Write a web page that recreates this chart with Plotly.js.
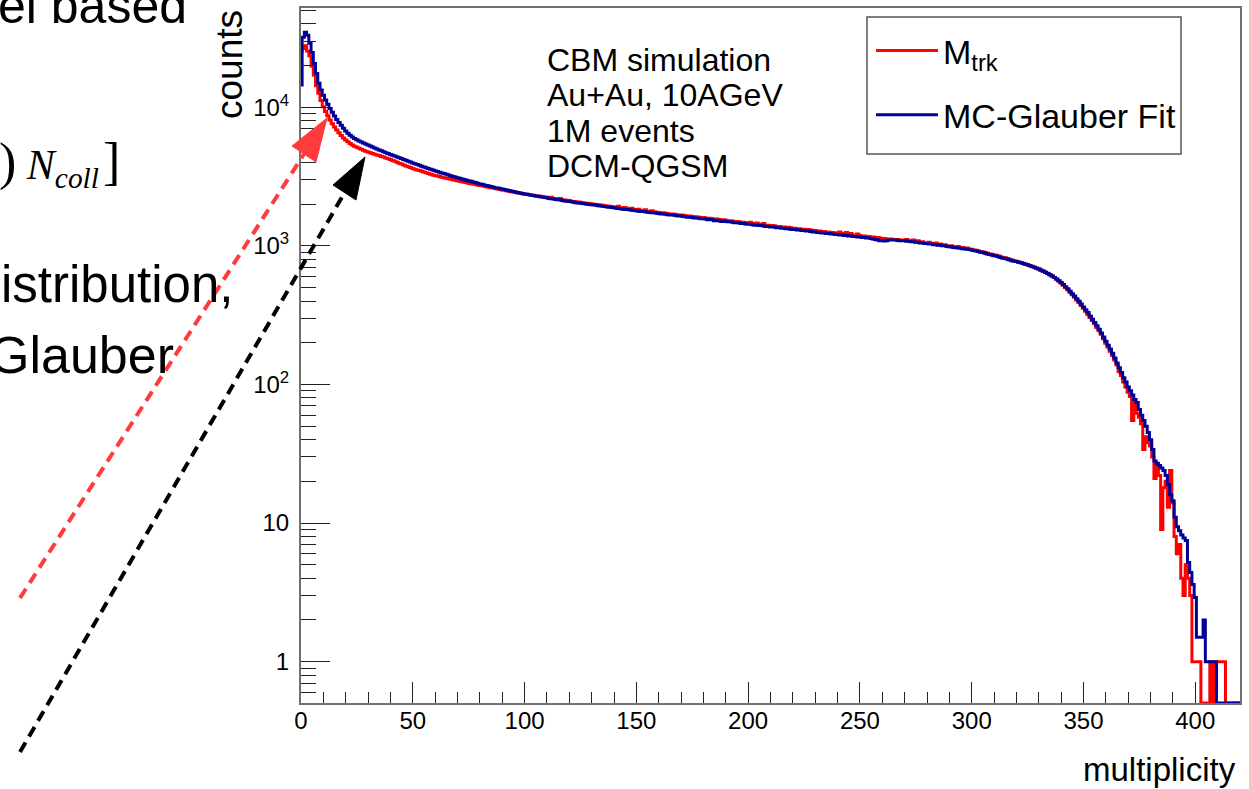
<!DOCTYPE html>
<html>
<head>
<meta charset="utf-8">
<script src="https://cdn.plot.ly/plotly-3.0.1.min.js"></script>
<style>
  html, body { margin: 0; padding: 0; background: #ffffff; }
  #chart { width: 1249px; height: 789px; }
</style>
</head>
<body>
<div id="chart"></div>
<script>
// ---- Histogram contents: one bin per integer multiplicity (bin i spans i-0.5 .. i+0.5) ----
const firstBin = 0;
const binWidth = 1;

// Reconstructed track multiplicity, M_trk (entries per bin)
const countsMtrk = [
  25500, 26500, 27800, 25500, 23500, 19800, 17000, 14300, 12600, 11200,
  10100, 9300, 8700, 8100, 7600, 7200, 6850, 6550, 6250, 6000,
  5800, 5630, 5480, 5350, 5240, 5140, 5050, 4970, 4890, 4820,
  4760, 4700, 4640, 4580, 4530, 4480, 4420, 4370, 4310, 4250,
  4190, 4130, 4070, 4010, 3950, 3890, 3830, 3770, 3720, 3670,
  3620, 3570, 3530, 3490, 3450, 3410, 3370, 3330, 3290, 3250,
  3220, 3190, 3160, 3130, 3100, 3070, 3050, 3020, 3000, 2970,
  2950, 2920, 2900, 2880, 2860, 2830, 2810, 2790, 2770, 2750,
  2730, 2710, 2690, 2670, 2650, 2630, 2610, 2590, 2570, 2550,
  2530, 2520, 2500, 2480, 2460, 2450, 2430, 2410, 2400, 2380,
  2370, 2360, 2350, 2330, 2320, 2300, 2290, 2280, 2260, 2250,
  2240, 2230, 2240, 2200, 2190, 2180, 2200, 2150, 2140, 2130,
  2120, 2100, 2090, 2080, 2070, 2060, 2050, 2040, 2030, 2020,
  2010, 2000, 1990, 1980, 1970, 1960, 1950, 1940, 1930, 1920,
  1910, 1900, 1930, 1880, 1870, 1890, 1860, 1850, 1870, 1830,
  1820, 1840, 1800, 1800, 1820, 1780, 1770, 1790, 1760, 1750,
  1740, 1730, 1730, 1720, 1710, 1700, 1700, 1690, 1680, 1670,
  1670, 1660, 1650, 1640, 1640, 1630, 1620, 1620, 1610, 1600,
  1600, 1590, 1580, 1580, 1570, 1560, 1560, 1550, 1540, 1540,
  1530, 1520, 1520, 1510, 1500, 1500, 1490, 1480, 1480, 1470,
  1460, 1480, 1450, 1440, 1460, 1430, 1430, 1450, 1410, 1410,
  1400, 1400, 1390, 1380, 1380, 1370, 1370, 1360, 1360, 1350,
  1340, 1340, 1330, 1330, 1320, 1320, 1310, 1310, 1300, 1290,
  1290, 1280, 1280, 1270, 1270, 1260, 1260, 1250, 1250, 1240,
  1240, 1260, 1230, 1220, 1250, 1210, 1230, 1200, 1200, 1220,
  1190, 1180, 1180, 1170, 1170, 1160, 1160, 1150, 1150, 1140,
  1130, 1130, 1120, 1120, 1120, 1110, 1110, 1110, 1100, 1100,
  1100, 1110, 1090, 1080, 1100, 1070, 1090, 1060, 1070, 1050,
  1050, 1060, 1040, 1030, 1050, 1020, 1030, 1010, 1020, 1000,
  995, 1000, 985, 980, 990, 970, 975, 960, 965, 950,
  945, 935, 930, 920, 910, 905, 895, 885, 875, 870,
  860, 855, 845, 835, 825, 820, 810, 800, 790, 780,
  775, 766, 758, 750, 740, 732, 722, 712, 702, 692,
  682, 670, 658, 646, 634, 620, 606, 590, 574, 558,
  540, 520, 500, 482, 462, 444, 426, 406, 390, 372,
  354, 338, 320, 304, 290, 274, 258, 244, 230, 214,
  198, 186, 174, 162, 150, 138, 124, 116, 104, 96,
  88, 82, 55, 74, 62, 58, 52, 34, 42, 38,
  36, 30, 21, 26, 22, 9, 18, 20, 13, 24,
  14, 8, 6, 7, 4, 3, 5, 4, 3, 1,
  1, 1, 1, 0, 0, 0, 0, 1, 0, 1,
  1, 1, 1, 1, 0, 0, 0, 0, 0, 0, 0
];

// MC-Glauber fit histogram (expected entries per bin)
const countsGlauber = [
  14500, 32000, 34800, 33000, 29000, 24800, 20700, 17500, 14900, 13300,
  12200, 11300, 10500, 9800, 9200, 8650, 8150, 7750, 7400, 7050,
  6750, 6500, 6280, 6100, 5950, 5820, 5710, 5610, 5520, 5430,
  5340, 5250, 5160, 5080, 5000, 4920, 4850, 4770, 4700, 4630,
  4560, 4500, 4440, 4380, 4320, 4260, 4200, 4140, 4080, 4020,
  3960, 3910, 3860, 3810, 3760, 3710, 3660, 3610, 3570, 3520,
  3480, 3440, 3400, 3360, 3320, 3280, 3240, 3200, 3170, 3140,
  3100, 3070, 3040, 3010, 2980, 2950, 2920, 2890, 2860, 2830,
  2800, 2780, 2750, 2730, 2700, 2680, 2650, 2630, 2610, 2590,
  2570, 2550, 2530, 2510, 2490, 2470, 2450, 2430, 2410, 2390,
  2370, 2360, 2340, 2320, 2310, 2290, 2280, 2260, 2250, 2230,
  2220, 2200, 2190, 2180, 2160, 2150, 2140, 2120, 2110, 2100,
  2090, 2080, 2060, 2050, 2040, 2030, 2020, 2010, 2000, 1990,
  1980, 1970, 1960, 1950, 1940, 1930, 1920, 1910, 1900, 1890,
  1880, 1870, 1860, 1850, 1840, 1830, 1830, 1820, 1810, 1800,
  1790, 1780, 1770, 1770, 1760, 1750, 1740, 1730, 1730, 1720,
  1710, 1700, 1700, 1690, 1680, 1670, 1670, 1660, 1650, 1640,
  1640, 1630, 1620, 1610, 1610, 1600, 1590, 1590, 1580, 1570,
  1570, 1560, 1540, 1550, 1540, 1520, 1530, 1520, 1500, 1510,
  1500, 1490, 1490, 1480, 1470, 1470, 1460, 1450, 1450, 1440,
  1430, 1430, 1420, 1410, 1410, 1400, 1400, 1390, 1380, 1380,
  1370, 1370, 1360, 1350, 1350, 1340, 1340, 1330, 1330, 1320,
  1310, 1310, 1300, 1300, 1290, 1290, 1280, 1280, 1270, 1260,
  1260, 1250, 1250, 1240, 1240, 1230, 1230, 1220, 1220, 1210,
  1210, 1200, 1200, 1190, 1190, 1180, 1180, 1170, 1170, 1160,
  1160, 1150, 1150, 1140, 1140, 1130, 1120, 1110, 1100, 1090,
  1090, 1085, 1090, 1100, 1100, 1100, 1100, 1095, 1090, 1090,
  1090, 1080, 1080, 1070, 1070, 1060, 1060, 1050, 1050, 1040,
  1040, 1030, 1030, 1020, 1020, 1010, 1010, 1000, 1000, 990,
  985, 980, 975, 970, 965, 960, 955, 950, 945, 940,
  935, 925, 920, 910, 900, 895, 885, 875, 865, 860,
  850, 845, 835, 825, 815, 810, 800, 790, 780, 775,
  770, 762, 754, 746, 738, 730, 720, 710, 700, 690,
  680, 668, 656, 644, 632, 620, 606, 592, 577, 560,
  544, 526, 508, 490, 470, 452, 434, 415, 398, 380,
  362, 346, 330, 312, 296, 280, 265, 250, 235, 220,
  205, 192, 180, 168, 155, 143, 132, 122, 112, 104,
  96, 90, 84, 78, 74, 66, 60, 55, 50, 45,
  40, 34, 28, 27, 26, 25, 24, 22, 19, 16,
  14.5, 11, 9.4, 8.8, 8.2, 7.8, 7.5, 5.2, 4.4, 3.6,
  2.9, 1.5, 1.5, 1.5, 2, 1, 1, 1, 1, 1,
  0, 0, 0, 0, 0, 0, 0, 0, 0, 0, 0
];

// Series names and the text block
const seriesNames = ['M<sub>trk</sub>', 'MC-Glauber Fit'];
const seriesColors = ['#ff0000', '#000099'];
const infoLines = ['CBM simulation', 'Au+Au, 10AGeV', '1M events', 'DCM-QGSM'];

// Axis settings and tick labels
const xRange = [0, 420];
const yRange = [-0.298, 4.716];      // log10 of 0.504 .. 52000
const xMajorStep = 50;
const xMinorStep = 10;
const yTickVals = [1, 10, 100, 1000, 10000];
const yTickText = ['1', '10', '10<sup>2</sup>', '10<sup>3</sup>', '10<sup>4</sup>'];
const yMinorDecades = [0.1, 1, 10, 100, 1000, 10000];

// ---- helpers ----
const FRAME = { left: 301, right: 1240, top: 8, bottom: 703 };
const pxX = x => (x - FRAME.left) / (FRAME.right - FRAME.left);
const pxY = y => 1 - (y - FRAME.top) / (FRAME.bottom - FRAME.top);

// Empty bins are drawn along the lower edge of the frame, as ROOT does on a log axis.
const EMPTY_LEVEL = Math.pow(10, yRange[0]);

function stepOutline(counts) {
  const xs = [], ys = [];
  counts.forEach((c, i) => {
    xs.push(firstBin + (i - 0.5) * binWidth);
    ys.push(c > 0 ? c : EMPTY_LEVEL);
  });
  xs.push(firstBin + (counts.length - 0.5) * binWidth);
  ys.push(ys[ys.length - 1]);
  return { xs, ys };
}

const histM = stepOutline(countsMtrk);
const histG = stepOutline(countsGlauber);

const traces = [
  {
    x: histM.xs, y: histM.ys, type: 'scatter', mode: 'lines',
    line: { shape: 'hv', color: seriesColors[0], width: 3 },
    name: seriesNames[0], legendgroup: 'a'
  },
  {
    x: histG.xs, y: histG.ys, type: 'scatter', mode: 'lines',
    line: { shape: 'hv', color: seriesColors[1], width: 3 },
    name: seriesNames[1], legendgroup: 'b'
  }
];

// minor ticks of the log axis: 2..9 in every decade
const yMinor = [];
yMinorDecades.forEach(d => { for (let k = 2; k <= 9; k++) yMinor.push(k * d); });

const rootFont = 'Liberation Sans, Arial, sans-serif';

const annotations = [
  // axis titles, ROOT style (right / top aligned)
  { text: 'multiplicity', xref: 'paper', yref: 'paper', x: pxX(1238), y: pxY(770),
    xanchor: 'right', yanchor: 'middle', showarrow: false,
    font: { family: rootFont, size: 33, color: '#000' } },
  { text: 'counts', xref: 'paper', yref: 'paper', x: pxX(230), y: pxY(65),
    xanchor: 'center', yanchor: 'middle', textangle: -90, showarrow: false,
    font: { family: rootFont, size: 37, color: '#000' } }
];

infoLines.forEach((t, i) => {
  annotations.push({
    text: t, xref: 'paper', yref: 'paper', x: pxX(545), y: pxY(60 + i * 35.3),
    xanchor: 'left', yanchor: 'middle', showarrow: false,
    font: { family: rootFont, size: 32, color: '#000' }
  });
});

// surrounding slide text
const slideFont = 'Liberation Sans, Arial, sans-serif';
annotations.push(
  { text: 'el based', xref: 'paper', yref: 'paper', x: pxX(189), y: pxY(6),
    xanchor: 'right', yanchor: 'middle', showarrow: false,
    font: { family: slideFont, size: 50, color: '#000' } },
  { text: '<span style="font-size:52px">)</span>&nbsp;<i>N</i><sub><i>coll</i></sub><span style="font-size:16px">&nbsp;</span><span style="font-size:52px">]</span>',
    xref: 'paper', yref: 'paper',
    x: pxX(122), y: pxY(164), xanchor: 'right', yanchor: 'middle', showarrow: false,
    font: { family: 'Liberation Serif, Times New Roman, serif', size: 42, color: '#000' } },
  { text: 'istribution,', xref: 'paper', yref: 'paper', x: pxX(235), y: pxY(284),
    xanchor: 'right', yanchor: 'middle', showarrow: false,
    font: { family: slideFont, size: 51, color: '#000' } },
  { text: 'Glauber', xref: 'paper', yref: 'paper', x: pxX(176), y: pxY(355),
    xanchor: 'right', yanchor: 'middle', showarrow: false,
    font: { family: slideFont, size: 52, color: '#000' } }
);

// dashed pointer arrows
function arrowShapes(tail, base, tip, left, right, color) {
  const path = 'M' + pxX(left[0]) + ',' + pxY(left[1]) +
               ' L' + pxX(tip[0]) + ',' + pxY(tip[1]) +
               ' L' + pxX(right[0]) + ',' + pxY(right[1]) + ' Z';
  return [
    { type: 'line', xref: 'paper', yref: 'paper', layer: 'above',
      x0: pxX(tail[0]), y0: pxY(tail[1]), x1: pxX(base[0]), y1: pxY(base[1]),
      line: { color: color, width: 4, dash: '11px,7px' } },
    { type: 'path', xref: 'paper', yref: 'paper', layer: 'above', path: path,
      fillcolor: color, line: { color: color, width: 1 } }
  ];
}

const shapes = [].concat(
  arrowShapes([20, 598], [304, 154], [327, 118], [292, 146], [316, 162], '#ff3b3b'),
  arrowShapes([20, 752], [345, 192], [365, 157], [333, 185], [356, 200], '#000000'),
  // legend frame
  [{ type: 'rect', xref: 'paper', yref: 'paper', layer: 'above',
     x0: pxX(867), x1: pxX(1181), y0: pxY(17), y1: pxY(154),
     line: { color: '#555555', width: 1.5 }, fillcolor: 'rgba(0,0,0,0)' }]
);

const axisLine = '#707070';
const tickCol = '#222222';

const layout = {
  width: 1249, height: 789,
  margin: { l: 301, r: 9, t: 8, b: 86, pad: 0 },
  paper_bgcolor: '#ffffff', plot_bgcolor: '#ffffff',
  showlegend: true,
  legend: {
    x: pxX(871), y: pxY(22), xanchor: 'left', yanchor: 'top',
    bgcolor: 'rgba(255,255,255,0)', borderwidth: 0,
    font: { family: rootFont, size: 34, color: '#000' },
    traceorder: 'grouped', tracegroupgap: 17, itemwidth: 62
  },
  xaxis: {
    range: xRange, showgrid: false, zeroline: false,
    showline: true, linecolor: axisLine, linewidth: 2, mirror: true,
    tickmode: 'linear', tick0: 0, dtick: xMajorStep,
    ticks: 'inside', ticklen: 21, tickwidth: 1, tickcolor: tickCol,
    minor: { ticks: 'inside', dtick: xMinorStep, tick0: 0, ticklen: 11, tickwidth: 1, tickcolor: tickCol, showgrid: false },
    tickfont: { family: rootFont, size: 24, color: '#000' },
    ticklabelstandoff: -5
  },
  yaxis: {
    type: 'log', range: yRange, showgrid: false, zeroline: false,
    showline: true, linecolor: axisLine, linewidth: 2, mirror: true,
    tickmode: 'array', tickvals: yTickVals, ticktext: yTickText,
    ticks: 'inside', ticklen: 29, tickwidth: 1, tickcolor: tickCol,
    minor: { ticks: 'inside', tickmode: 'array', tickvals: yMinor, ticklen: 15, tickwidth: 1, tickcolor: tickCol, showgrid: false },
    tickfont: { family: rootFont, size: 24, color: '#000' },
    ticklabelstandoff: 5
  },
  annotations: annotations,
  shapes: shapes,
  hovermode: false
};

Plotly.newPlot('chart', traces, layout, { displayModeBar: false, staticPlot: true });
</script>
</body>
</html>
